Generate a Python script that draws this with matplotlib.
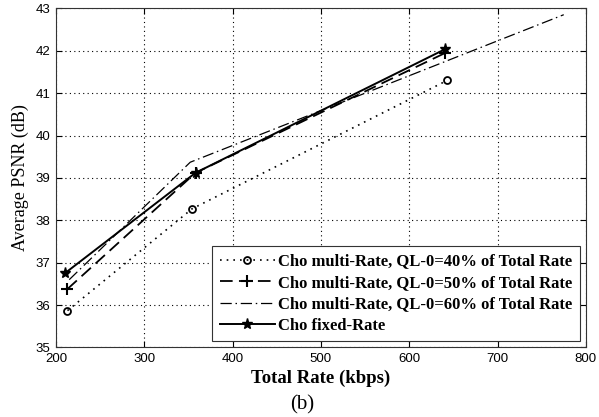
import matplotlib
matplotlib.use("Agg")
import matplotlib.pyplot as plt

# values
rate_40 = [213, 354, 643]
psnr_40 = [35.87, 38.27, 41.30]

rate_50 = [213, 358, 641]
psnr_50 = [36.38, 39.12, 41.95]

rate_60 = [215, 352, 775]
psnr_60 = [36.60, 39.37, 42.85]

rate_fixed = [210, 358, 640]
psnr_fixed = [36.75, 39.12, 42.03]

labels = ["Cho multi-Rate, QL-0=40% of Total Rate",
          "Cho multi-Rate, QL-0=50% of Total Rate",
          "Cho multi-Rate, QL-0=60% of Total Rate",
          "Cho fixed-Rate"]

fig = plt.figure(figsize=(5.99, 4.17), dpi=100)
ax = fig.add_axes([0.0935, 0.1667, 0.978 - 0.0935, 0.980 - 0.1667])

ax.plot(rate_40, psnr_40, color='black', linestyle=(0, (1, 3)), linewidth=1.2,
        marker='o', markersize=5, markerfacecolor='none', markeredgewidth=1.3, label=labels[0])
ax.plot(rate_50, psnr_50, color='black', linestyle=(0, (7, 3.5)), linewidth=1.3,
        marker='+', markersize=8, markeredgewidth=1.5, label=labels[1])
ax.plot(rate_60, psnr_60, color='black', linestyle=(0, (9, 3, 1.2, 3)), linewidth=0.9,
        label=labels[2])
ax.plot(rate_fixed, psnr_fixed, color='black', linestyle='-', linewidth=1.4,
        marker='*', markersize=8, label=labels[3])

ax.set_xlim(200, 800)
ax.set_ylim(35, 43)
ax.set_xticks(range(200, 801, 100))
ax.set_yticks(range(35, 44))

ax.grid(True, color='black', linestyle=(0, (1, 3)), linewidth=0.8)
ax.tick_params(direction='in', top=True, right=True, length=4, width=0.8, labelsize=9.5, pad=4)
for lab in ax.get_xticklabels() + ax.get_yticklabels():
    lab.set_family('Liberation Sans')
for sp in ax.spines.values():
    sp.set_linewidth(0.8)
    sp.set_color('#333333')

ax.set_xlabel('Total Rate (kbps)', family='Liberation Serif', fontweight='bold', fontsize=13.5, labelpad=3)
ax.set_ylabel('Average PSNR (dB)', family='Liberation Serif', fontsize=13, labelpad=5)

leg = ax.legend(loc='lower right', prop={'family': 'Liberation Serif', 'weight': 'bold', 'size': 12},
                fancybox=False, framealpha=1, edgecolor='#333333', handlelength=3.3,
                borderaxespad=0.36, labelspacing=0.33, borderpad=0.45, handletextpad=0.2)
leg.get_frame().set_linewidth(0.8)

fig.text(0.504, 0.028, '(b)', family='Liberation Serif', fontsize=15, ha='center', va='center')

fig.savefig('out.png', dpi=100)
